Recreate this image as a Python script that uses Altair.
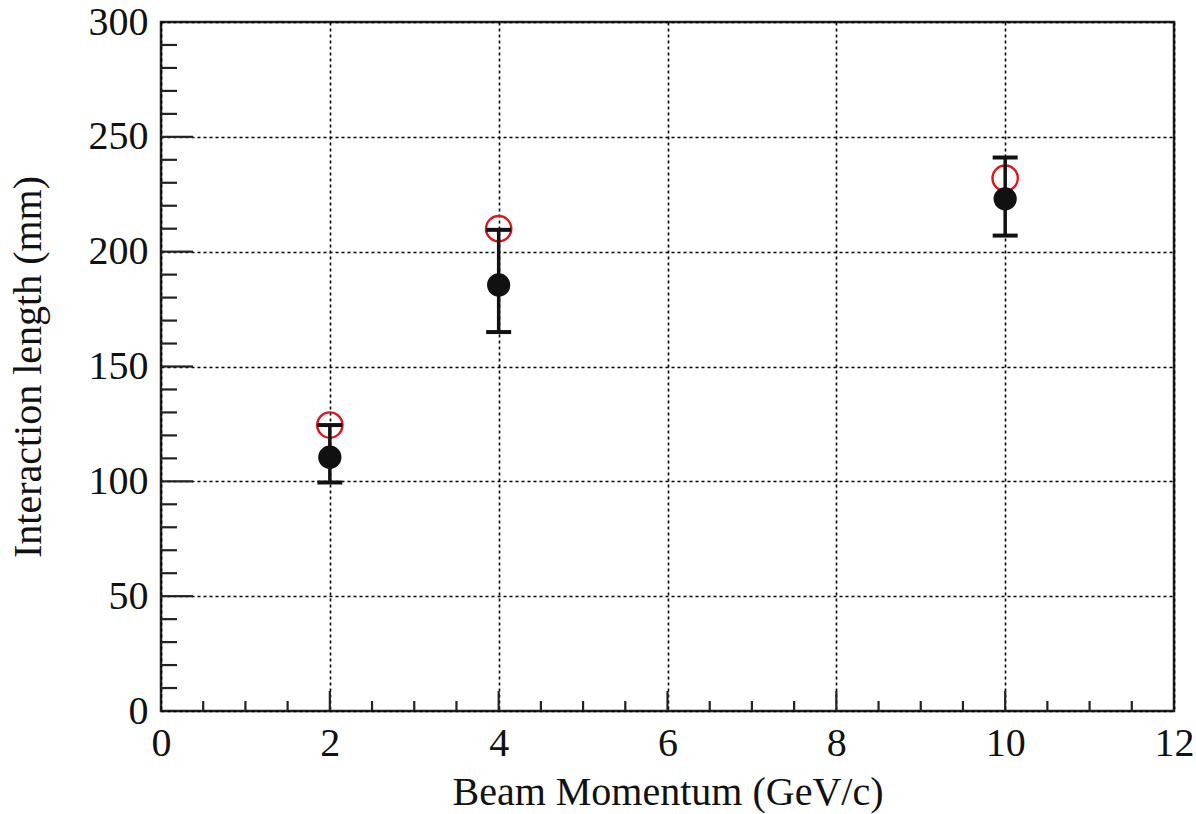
import altair as alt
import pandas as pd

# Data
momentum = [2, 4, 10]
measured = [110.5, 185.5, 223]
err_low = [99.5, 165, 207]
err_high = [124.5, 209.5, 241]
predicted = [124.5, 210, 232]

x_minor = [0.5, 1, 1.5, 2.5, 3, 3.5, 4.5, 5, 5.5, 6.5, 7, 7.5, 8.5, 9, 9.5, 10.5, 11, 11.5]
x_major = [2, 4, 6, 8, 10]
y_minor = [v for v in range(10, 300, 10) if v % 50 != 0]
y_major = [50, 100, 150, 200, 250]

W, H = 1013, 689
FONT = "Liberation Serif"
FS = 40

df = pd.DataFrame({"p": momentum, "m": measured, "lo": err_low, "hi": err_high, "pred": predicted})

xs = alt.Scale(domain=[0, 12], nice=False, zero=False)
ys = alt.Scale(domain=[0, 300], nice=False, zero=False)

xaxis = alt.Axis(values=[0, 2, 4, 6, 8, 10, 12], format="d", ticks=False, domain=False,
                 labelFlush=False,
                 grid=True, gridColor="black", gridDash=[3, 3], gridWidth=1.6,
                 labelFont=FONT, labelFontSize=FS, labelColor="#111", labelPadding=12,
                 title="Beam Momentum (GeV/c)", titleFont=FONT, titleFontSize=FS,
                 titleFontWeight="normal", titleColor="#111", titlePadding=9)
yaxis = alt.Axis(values=[0, 50, 100, 150, 200, 250, 300], ticks=False, domain=False,
                 labelFlush=False,
                 grid=True, gridColor="black", gridDash=[3, 3], gridWidth=1.6,
                 labelFont=FONT, labelFontSize=FS, labelColor="#111", labelPadding=13,
                 title="Interaction length (mm)", titleFont=FONT, titleFontSize=FS,
                 titleFontWeight="normal", titleColor="#111", titlePadding=40)

base = alt.Chart(df)

pred = base.mark_point(shape="circle", filled=False, color="#e3131c", strokeWidth=2.4,
                       size=640, opacity=1).encode(
    x=alt.X("p:Q", scale=xs, axis=xaxis), y=alt.Y("pred:Q", scale=ys, axis=yaxis))
bars = base.mark_rule(color="#111", strokeWidth=3.5).encode(
    x=alt.X("p:Q", scale=xs), y=alt.Y("lo:Q", scale=ys), y2="hi:Q")
cap_hi = base.mark_rule(color="#111", strokeWidth=4, xOffset=-12.5, x2Offset=12.5).encode(
    x=alt.X("p:Q", scale=xs), x2="p:Q", y=alt.Y("hi:Q", scale=ys))
cap_lo = base.mark_rule(color="#111", strokeWidth=4, xOffset=-12.5, x2Offset=12.5).encode(
    x=alt.X("p:Q", scale=xs), x2="p:Q", y=alt.Y("lo:Q", scale=ys))
pts = base.mark_point(shape="circle", filled=True, color="#111", opacity=1, size=540).encode(
    x=alt.X("p:Q", scale=xs), y=alt.Y("m:Q", scale=ys))

# inward ticks
xmin_df = pd.DataFrame({"v": x_minor})
xmaj_df = pd.DataFrame({"v": x_major})
ymin_df = pd.DataFrame({"v": y_minor})
ymaj_df = pd.DataFrame({"v": y_major})
tk = dict(color="#222", strokeWidth=2.2)
t1 = alt.Chart(xmin_df).mark_rule(**tk).encode(x=alt.X("v:Q", scale=xs), y=alt.value(H), y2=alt.value(H - 10))
t2 = alt.Chart(xmaj_df).mark_rule(**tk).encode(x=alt.X("v:Q", scale=xs), y=alt.value(H), y2=alt.value(H - 20))
t3 = alt.Chart(ymin_df).mark_rule(**tk).encode(y=alt.Y("v:Q", scale=ys), x=alt.value(0), x2=alt.value(16))
t4 = alt.Chart(ymaj_df).mark_rule(**tk).encode(y=alt.Y("v:Q", scale=ys), x=alt.value(0), x2=alt.value(32))

chart = alt.layer(pred, t1, t2, t3, t4, bars, cap_hi, cap_lo, pts).properties(
    width=W, height=H,
    autosize=alt.AutoSizeParams(type="none"),
    padding={"left": 161, "top": 22, "right": 22, "bottom": 103},
    background="white",
).configure_view(stroke="#222", strokeWidth=2.5)

chart.save("out.html", embed_options={"renderer": "svg", "actions": False})
